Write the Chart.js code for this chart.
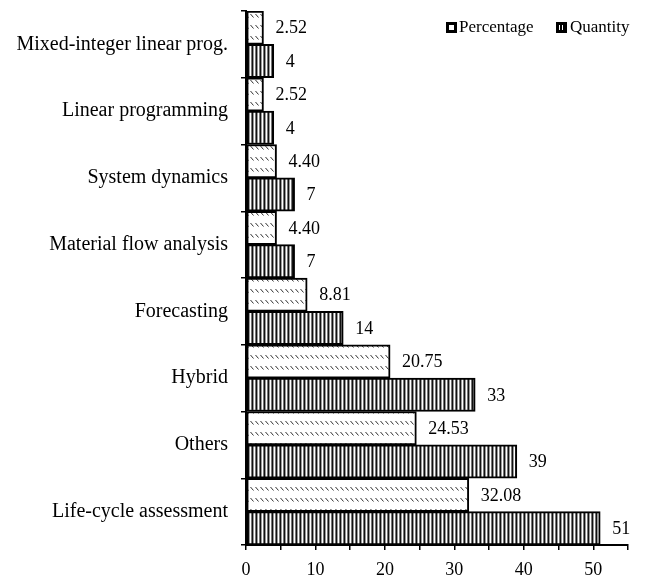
<!DOCTYPE html>
<html>
<head>
<meta charset="utf-8">
<script src="https://cdn.jsdelivr.net/npm/chart.js@4/dist/chart.umd.min.js"></script>
<style>
    html, body { margin: 0; padding: 0; background: #fff; }
    #wrap { width: 646px; height: 582px; position: relative; }
</style>
</head>
<body>
<div id="wrap"><canvas id="chart"></canvas></div>
<script>
// Data (top to bottom).
const categories = [
    'Mixed-integer linear prog.',
    'Linear programming',
    'System dynamics',
    'Material flow analysis',
    'Forecasting',
    'Hybrid',
    'Others',
    'Life-cycle assessment'
];
const percentageValues = [2.52, 2.52, 4.40, 4.40, 8.81, 20.75, 24.53, 32.08];
const quantityValues = [4, 4, 7, 7, 14, 33, 39, 51];
const seriesNames = ['Percentage', 'Quantity'];
const xTicks = [0, 10, 20, 30, 40, 50];

const FONT = '"Liberation Serif", "Times New Roman", serif';

// Get the chart element.
const chartElement = document.getElementById('chart');
const ctx = chartElement.getContext('2d');

// Small diagonal dashes on white, like the "Percentage" fill.
function makeHatch() {
    const tile = document.createElement('canvas');
    tile.width = 5;
    tile.height = 11;
    const g = tile.getContext('2d');
    g.fillStyle = '#fff';
    g.fillRect(0, 0, 5, 11);
    g.strokeStyle = '#333';
    g.lineWidth = 1;
    g.beginPath();
    g.moveTo(0.5, 3);
    g.lineTo(3.5, 6.5);
    g.stroke();
    return ctx.createPattern(tile, 'repeat');
}

// Vertical black/grey/white stripes, like the "Quantity" fill.
function makeStripes() {
    const tile = document.createElement('canvas');
    tile.width = 4;
    tile.height = 4;
    const g = tile.getContext('2d');
    const cols = ['#111', '#999', '#fff', '#777'];
    cols.forEach((c, i) => {
        g.fillStyle = c;
        g.fillRect(i, 0, 1, 4);
    });
    return ctx.createPattern(tile, 'repeat');
}

const hatch = makeHatch();
const stripes = makeStripes();

// Value labels at the end of every bar.
const valueLabels = {
    id: 'valueLabels',
    afterDatasetsDraw(chart) {
        const c = chart.ctx;
        c.save();
        c.font = '18px ' + FONT;
        c.fillStyle = '#000';
        c.textAlign = 'left';
        c.textBaseline = 'middle';
        chart.data.datasets.forEach((set, di) => {
            chart.getDatasetMeta(di).data.forEach((bar, i) => {
                const v = set.data[i];
                const text = di === 0 ? v.toFixed(2) : String(v);
                c.fillText(text, bar.x + 12, bar.y + 1);
            });
        });
        c.restore();
    }
};

// Legend drawn inside the plot, top right.
const cornerLegend = {
    id: 'cornerLegend',
    afterDraw(chart) {
        const c = chart.ctx;
        c.save();
        c.font = '17px ' + FONT;
        c.textBaseline = 'middle';

        // Percentage key: white box with heavy border.
        c.fillStyle = '#000';
        c.fillRect(446, 22, 11, 11);
        c.fillStyle = '#fff';
        c.fillRect(449, 25, 5, 5);
        c.fillStyle = '#000';
        c.fillText(seriesNames[0], 459, 28);

        // Quantity key: black box with white stripes.
        c.fillRect(556, 22, 11, 11);
        c.fillStyle = '#fff';
        c.fillRect(559, 25, 1, 5);
        c.fillRect(562, 25, 1, 5);
        c.fillStyle = '#000';
        c.fillText(seriesNames[1], 570, 28);
        c.restore();
    }
};

new Chart(chartElement, {
    type: 'bar',
    data: {
        labels: categories,
        datasets: [
            {
                label: seriesNames[0],
                data: percentageValues,
                backgroundColor: hatch,
                borderColor: '#000',
                borderWidth: 2,
                borderSkipped: false
            },
            {
                label: seriesNames[1],
                data: quantityValues,
                backgroundColor: stripes,
                borderColor: '#000',
                borderWidth: 2,
                borderSkipped: false
            }
        ]
    },
    options: {
        indexAxis: 'y',
        responsive: true,
        maintainAspectRatio: false,
        animation: false,
        layout: {
            padding: { top: 11, right: 18, bottom: 0, left: 0 }
        },
        datasets: {
            bar: {
                categoryPercentage: 1.0,
                barPercentage: 1.0
            }
        },
        plugins: {
            legend: { display: false },
            tooltip: { enabled: false }
        },
        scales: {
            x: {
                min: 0,
                max: 55,
                afterFit: s => {
                    s.height = 37;
                    s.paddingLeft = 0;
                    s.paddingRight = 0;
                },
                afterBuildTicks: s => {
                    s.ticks = [];
                    for (let v = 0; v <= 55; v += 5) s.ticks.push({ value: v });
                },
                border: { display: true, color: '#000', width: 2 },
                grid: {
                    drawOnChartArea: false,
                    drawTicks: true,
                    tickLength: 5,
                    color: '#000',
                    lineWidth: 1.5
                },
                ticks: {
                    autoSkip: false,
                    maxRotation: 0,
                    padding: 9,
                    color: '#000',
                    font: { family: FONT, size: 18 },
                    callback: v => (xTicks.includes(v) ? String(v) : '')
                }
            },
            y: {
                afterFit: s => {
                    s.width = 246;
                    s.paddingTop = 0;
                    s.paddingBottom = 0;
                },
                border: { display: true, color: '#000', width: 2 },
                grid: {
                    offset: true,
                    drawOnChartArea: false,
                    drawTicks: true,
                    tickLength: 5,
                    color: '#000',
                    lineWidth: 1.5
                },
                ticks: {
                    padding: 13,
                    color: '#000',
                    font: { family: FONT, size: 20 }
                }
            }
        }
    },
    plugins: [valueLabels, cornerLegend]
});
</script>
</body>
</html>
